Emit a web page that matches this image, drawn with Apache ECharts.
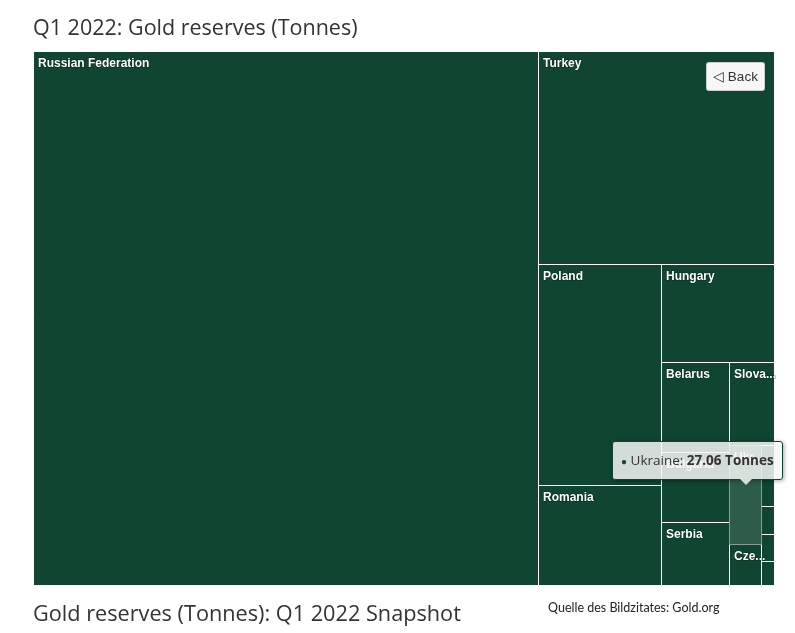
<!DOCTYPE html>
<html>
<head>
<meta charset="utf-8">
<script src="https://cdn.jsdelivr.net/npm/echarts@6/dist/echarts.min.js"></script>
<style>
html,body{margin:0;padding:0;background:#fff;}
#main{width:795px;height:633px;}
</style>
</head>
<body>
<div id="main"></div>
<script>
// ---- data ----
const countries = ['Russian Federation','Turkey','Poland','Romania','Hungary','Belarus','Bulgaria','Serbia','Slovakia','Ukraine','Czech Republic','Latvia','Slovenia','Bosnia and Herzegovina','Albania'];
const tonnes = [2298.5, 428, 231, 104, 94.5, 53, 41, 37, 31.5, 27.06, 11, 6.6, 3.1, 2.9, 2.6];
const highlighted = 'Ukraine';
const unit = 'Tonnes';
const titleText = 'Q1 2022: Gold reserves (Tonnes)';
const captionText = 'Gold reserves (Tonnes): Q1 2022 Snapshot';
const sourceText = 'Quelle des Bildzitates: Gold.org';

// ---- layout ----
const PLOT = {left: 33, top: 51, width: 741, height: 534};
const GREEN = '#0f4531';

// alternating-strip squarified layout (vertical strip first)
function stripLayout(values, W, H) {
  const total = values.reduce((a, b) => a + b, 0);
  const areas = values.map(v => v / total * W * H);
  const rects = [];
  let rx = 0, ry = 0, rw = W, rh = H, dir = 0;
  let strip = [], sum = 0;
  const ar = (a, b) => Math.max(a / b, b / a);
  function flush() {
    const L = dir === 0 ? rh : rw;
    const t = sum / L;
    let off = 0;
    strip.forEach(i => {
      const len = areas[i] / t;
      if (dir === 0) rects[i] = {x: rx, y: ry + off, w: t, h: len};
      else rects[i] = {x: rx + off, y: ry, w: len, h: t};
      off += len;
    });
    if (dir === 0) { rx += t; rw -= t; } else { ry += t; rh -= t; }
    dir = 1 - dir; strip = []; sum = 0;
  }
  areas.forEach((a, i) => {
    if (strip.length) {
      const L = dir === 0 ? rh : rw;
      const last = strip[strip.length - 1];
      const tOld = sum / L, tNew = (sum + a) / L;
      const arOld = ar(tOld, areas[last] / tOld);
      const arNew = ar(tNew, a / tNew);
      if (arNew > arOld) flush();
    }
    strip.push(i); sum += a;
  });
  if (strip.length) flush();
  return rects;
}

const rects = stripLayout(tonnes, PLOT.width, PLOT.height);
const seriesData = countries.map((n, i) => ({
  name: n,
  value: [rects[i].x + rects[i].w / 2, rects[i].y + rects[i].h / 2, rects[i].w, rects[i].h, tonnes[i]]
}));

const chart = echarts.init(document.getElementById('main'), null, {renderer: 'canvas'});

const option = {
  animation: false,
  title: [
    {text: titleText, left: 33, top: 18, padding: 0,
     textStyle: {fontSize: 21.5, fontWeight: 'normal', color: '#333333', fontFamily: '"Open Sans", sans-serif'}},
    {text: captionText, left: 33, top: 604, padding: 0,
     textStyle: {fontSize: 21.7, fontWeight: 'normal', color: '#333333', fontFamily: '"Open Sans", sans-serif'}},
    {text: sourceText, left: 548, top: 601, padding: 0,
     textStyle: {fontSize: 12.5, fontWeight: 'normal', color: '#222222', fontFamily: 'Lato, sans-serif'}}
  ],
  grid: {left: PLOT.left, top: PLOT.top, width: PLOT.width, height: PLOT.height},
  xAxis: {type: 'value', min: 0, max: PLOT.width, show: false},
  yAxis: {type: 'value', min: 0, max: PLOT.height, inverse: true, show: false},
  tooltip: {
    trigger: 'item',
    triggerOn: 'none',
    alwaysShowContent: true,
    transitionDuration: 0,
    backgroundColor: 'rgba(247,247,247,0.85)',
    borderColor: GREEN,
    borderWidth: 1,
    padding: [8, 8],
    textStyle: {fontSize: 13.5, color: '#333333', fontFamily: '"Open Sans", sans-serif'},
    extraCssText: 'box-shadow: 1px 1px 4px rgba(0,0,0,0.35); border-radius: 3px;',
    formatter: function (p) {
      return '<span style="color:' + GREEN + ';font-size:10px;">\u25CF</span> ' + p.name + ': <b>' + p.value[4] + ' ' + unit + '</b>' +
        '<div class="tip-arrow" style="position:absolute;top:100%;left:0;width:0;height:0;border-left:6px solid transparent;border-right:6px solid transparent;border-top:6px solid rgba(247,247,247,0.85);"></div>';
    },
    position: function (point, params, dom, rect, size) {
      const w = size.contentSize[0], h = size.contentSize[1];
      let ax = point[0], ay = point[1];
      if (rect) { ax = rect.x + rect.width / 2; ay = rect.y + rect.height / 2; }
      const left = Math.min(ax - w / 2, size.viewSize[0] - w - 12);
      const top = ay - h - 15;
      const arrow = dom.querySelector('.tip-arrow');
      if (arrow) arrow.style.left = (ax - left - 7) + 'px';
      return [left, top];
    }
  },
  graphic: [{
    type: 'group', x: 706.5, y: 62.5, z: 100,
    children: [
      {type: 'rect', z: 100, shape: {x: 0, y: 0, width: 58, height: 28, r: 2},
       style: {fill: '#f7f7f7', stroke: '#cccccc', lineWidth: 1}},
      {type: 'text', z: 101, style: {text: '\u25C1 Back', x: 29, y: 14.5, align: 'center', verticalAlign: 'middle',
       font: '13.5px "Liberation Sans", Arial, sans-serif', fill: '#333333'}}
    ]
  }],
  series: [{
    type: 'custom',
    coordinateSystem: 'cartesian2d',
    dimensions: ['cx', 'cy', 'w', 'h', 'tonnes'],
    encode: {x: 'cx', y: 'cy', tooltip: 'tonnes'},
    itemStyle: {color: GREEN},
    data: seriesData,
    renderItem: function (params, api) {
      const cx = api.value(0), cy = api.value(1), w = api.value(2), h = api.value(3);
      const p0 = api.coord([cx - w / 2, cy - h / 2]);
      const p1 = api.coord([cx + w / 2, cy + h / 2]);
      const X0 = Math.round(Math.min(p0[0], p1[0])), X1 = Math.round(Math.max(p0[0], p1[0]));
      const Y0 = Math.round(Math.min(p0[1], p1[1])), Y1 = Math.round(Math.max(p0[1], p1[1]));
      const name = countries[params.dataIndex];
      const hot = name === highlighted;
      const children = [{
        type: 'rect', z2: hot ? 10 : 0,
        shape: {x: X0 + 0.5, y: Y0 + 0.5, width: X1 - X0, height: Y1 - Y0},
        style: {fill: hot ? '#2d5c48' : GREEN, stroke: hot ? '#8d9d95' : '#ffffff', lineWidth: 1}
      }];
      if (X1 - X0 >= 20 && Y1 - Y0 >= 16) {
        children.push({
          type: 'text', z2: 20,
          style: {
            text: name, x: X0 + 5, y: Y0 + 7, align: 'left', verticalAlign: 'top',
            width: X1 - X0 + 2, overflow: 'truncate', ellipsis: '...',
            font: 'bold 12px "Liberation Sans", Arial, sans-serif',
            fill: '#ffffff', stroke: 'rgba(0,0,0,0.45)', lineWidth: 1
          }
        });
      }
      return {type: 'group', children: children};
    }
  }]
};

chart.setOption(option);
chart.dispatchAction({type: 'showTip', seriesIndex: 0, dataIndex: countries.indexOf(highlighted)});
</script>
</body>
</html>
